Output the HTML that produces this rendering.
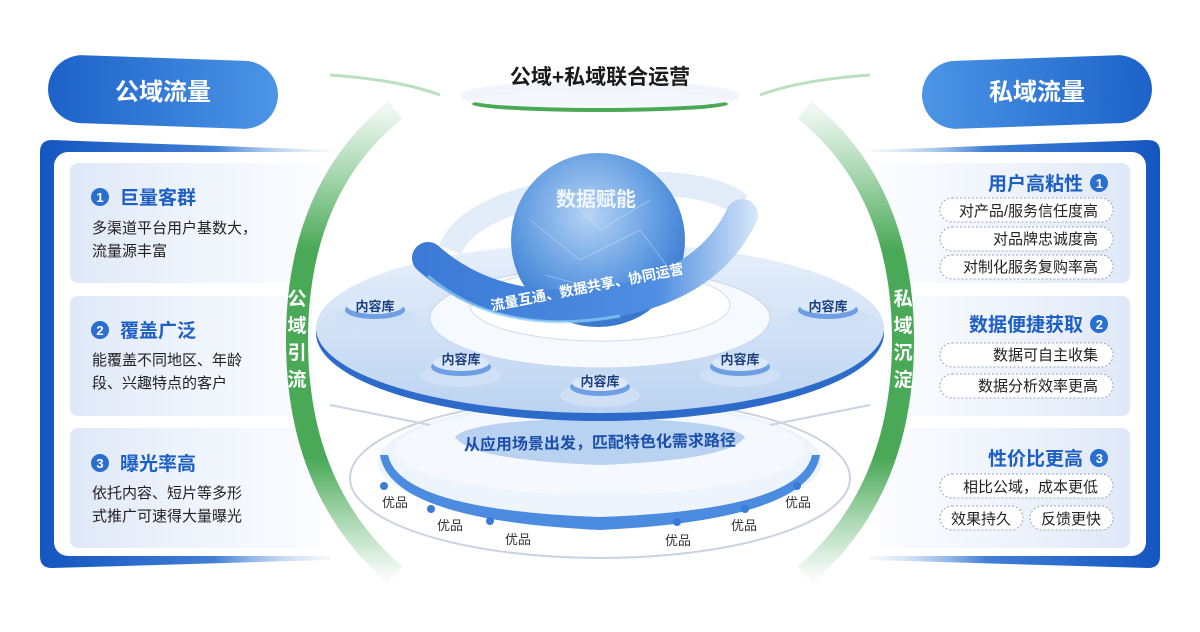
<!DOCTYPE html>
<html><head><meta charset="utf-8"><style>
html,body{margin:0;padding:0;background:#fff;width:1200px;height:632px;overflow:hidden}
svg{display:block;font-family:"Liberation Sans","Noto Sans CJK SC",sans-serif}
</style></head><body>
<svg width="1200" height="632" viewBox="0 0 1200 632" xmlns="http://www.w3.org/2000/svg">
<defs>
<linearGradient id="pillL" x1="0" x2="1"><stop offset="0" stop-color="#1c62c9"/><stop offset="1" stop-color="#4d95e6"/></linearGradient>
<linearGradient id="pillR" x1="0" x2="1"><stop offset="0" stop-color="#4d95e6"/><stop offset="1" stop-color="#1c62c9"/></linearGradient>
<linearGradient id="frameL" x1="0" x2="1"><stop offset="0" stop-color="#1455c0"/><stop offset="0.6" stop-color="#3f7fd6"/><stop offset="1" stop-color="#dbe7f7" stop-opacity="0.3"/></linearGradient>
<linearGradient id="frameR" x1="1" x2="0"><stop offset="0" stop-color="#1455c0"/><stop offset="0.6" stop-color="#3f7fd6"/><stop offset="1" stop-color="#dbe7f7" stop-opacity="0.3"/></linearGradient>
<linearGradient id="cardL" x1="0" x2="1"><stop offset="0" stop-color="#dfe8f7"/><stop offset="1" stop-color="#f7faff" stop-opacity="0.6"/></linearGradient>
<linearGradient id="cardR" x1="1" x2="0"><stop offset="0" stop-color="#dfe8f7"/><stop offset="1" stop-color="#f7faff" stop-opacity="0.6"/></linearGradient>
<linearGradient id="green" gradientUnits="userSpaceOnUse" x1="0" y1="110" x2="0" y2="575"><stop offset="0" stop-color="#5bb56a" stop-opacity="0.1"/><stop offset="0.3" stop-color="#4aa957"/><stop offset="0.75" stop-color="#4aa957"/><stop offset="1" stop-color="#5bb56a" stop-opacity="0.05"/></linearGradient>
<radialGradient id="globe" cx="0.45" cy="0.35" r="0.7"><stop offset="0" stop-color="#b7d4f5"/><stop offset="0.6" stop-color="#5d99e0"/><stop offset="1" stop-color="#2f6fc9"/></radialGradient>
<linearGradient id="disc" x1="0" y1="0" x2="0" y2="1"><stop offset="0" stop-color="#e8f0fb"/><stop offset="1" stop-color="#bcd3f1"/></linearGradient>
<linearGradient id="ring" gradientUnits="userSpaceOnUse" x1="420" y1="0" x2="760" y2="0"><stop offset="0" stop-color="#3b7ad6"/><stop offset="0.7" stop-color="#4f8ee2"/><stop offset="1" stop-color="#dbe9f9"/></linearGradient>
</defs>

<path d="M330 75 Q400 80 440 95" stroke="#8fcb95" stroke-width="3" fill="none" opacity="0.6"/>
<path d="M870 75 Q800 80 760 95" stroke="#8fcb95" stroke-width="3" fill="none" opacity="0.6"/>
<ellipse cx="600" cy="96" rx="140" ry="16" fill="#f1f5fb"/>
<ellipse cx="600" cy="104" rx="128" ry="8" fill="#4aa957"/>
<ellipse cx="600" cy="100" rx="130" ry="8" fill="#f4f7fb"/>
<text x="600" y="84" text-anchor="middle" font-size="21" font-weight="bold" fill="#1a1a1a">公域+私域联合运营</text>

<rect x="48" y="58" width="230" height="68" rx="34" fill="url(#pillL)" transform="rotate(2 163 92)"/>
<text x="163" y="100" text-anchor="middle" font-size="24" font-weight="bold" fill="#fff">公域流量</text>
<rect x="922" y="58" width="230" height="68" rx="34" fill="url(#pillR)" transform="rotate(-2 1037 92)"/>
<text x="1037" y="100" text-anchor="middle" font-size="24" font-weight="bold" fill="#fff">私域流量</text>

<path d="M52 140 L330 150 L330 560 L52 568 Q40 568 40 556 L40 152 Q40 140 52 140Z" fill="url(#frameL)"/>
<rect x="54" y="152" width="290" height="404" rx="14" fill="#fff"/>
<rect x="70" y="163" width="250" height="120" rx="8" fill="url(#cardL)"/>
<rect x="70" y="296" width="250" height="120" rx="8" fill="url(#cardL)"/>
<rect x="70" y="428" width="250" height="120" rx="8" fill="url(#cardL)"/>
<g font-size="19" font-weight="bold" fill="#1d5fc4">
<circle cx="100" cy="197" r="9" fill="#2a6ed0"/><text x="100" y="202" font-size="13" fill="#fff" text-anchor="middle">1</text><text x="120" y="204">巨量客群</text>
<circle cx="100" cy="330" r="9" fill="#2a6ed0"/><text x="100" y="335" font-size="13" fill="#fff" text-anchor="middle">2</text><text x="120" y="337">覆盖广泛</text>
<circle cx="100" cy="463" r="9" fill="#2a6ed0"/><text x="100" y="468" font-size="13" fill="#fff" text-anchor="middle">3</text><text x="120" y="470">曝光率高</text>
</g>
<g font-size="15" fill="#222">
<text x="92" y="233">多渠道平台用户基数大，</text><text x="92" y="256">流量源丰富</text>
<text x="92" y="365">能覆盖不同地区、年龄</text><text x="92" y="388">段、兴趣特点的客户</text>
<text x="92" y="498">依托内容、短片等多形</text><text x="92" y="521">式推广可速得大量曝光</text>
</g>

<path d="M1148 140 L870 150 L870 560 L1148 568 Q1160 568 1160 556 L1160 152 Q1160 140 1148 140Z" fill="url(#frameR)"/>
<rect x="856" y="152" width="290" height="404" rx="14" fill="#fff"/>
<rect x="880" y="163" width="250" height="120" rx="8" fill="url(#cardR)"/>
<rect x="880" y="296" width="250" height="120" rx="8" fill="url(#cardR)"/>
<rect x="880" y="428" width="250" height="120" rx="8" fill="url(#cardR)"/>
<g font-size="19" font-weight="bold" fill="#1d5fc4" text-anchor="end">
<text x="1083" y="190">用户高粘性</text><circle cx="1099" cy="183" r="9" fill="#2a6ed0"/><text x="1103" y="188" font-size="13" fill="#fff">1</text>
<text x="1083" y="331">数据便捷获取</text><circle cx="1099" cy="324" r="9" fill="#2a6ed0"/><text x="1103" y="329" font-size="13" fill="#fff">2</text>
<text x="1083" y="465">性价比更高</text><circle cx="1099" cy="458" r="9" fill="#2a6ed0"/><text x="1103" y="463" font-size="13" fill="#fff">3</text>
</g>
<g fill="#fff" stroke="#9aa6b8" stroke-dasharray="2 2" stroke-width="1">
<rect x="940" y="198" width="173" height="24" rx="12"/>
<rect x="940" y="227" width="173" height="24" rx="12"/>
<rect x="940" y="255" width="173" height="24" rx="12"/>
<rect x="940" y="343" width="173" height="24" rx="12"/>
<rect x="940" y="374" width="173" height="24" rx="12"/>
<rect x="940" y="474" width="173" height="24" rx="12"/>
<rect x="940" y="506" width="83" height="24" rx="12"/>
<rect x="1030" y="506" width="83" height="24" rx="12"/>
</g>
<g font-size="15" fill="#222" text-anchor="end">
<text x="1098" y="216">对产品/服务信任度高</text>
<text x="1098" y="244">对品牌忠诚度高</text>
<text x="1098" y="272">对制化服务复购率高</text>
<text x="1098" y="360">数据可自主收集</text>
<text x="1098" y="391">数据分析效率更高</text>
<text x="1098" y="492">相比公域，成本更低</text>
</g>
<g font-size="15" fill="#222" text-anchor="middle">
<text x="981" y="524">效果持久</text><text x="1071" y="524">反馈更快</text>
</g>

<path d="M405 112 Q312 190 312 340 Q312 490 405 572 L795 572 Q888 490 888 340 Q888 190 795 112Z" fill="#fff"/>
<path d="M395 110 Q297 190 297 340 Q297 490 395 575" stroke="url(#green)" stroke-width="22" fill="none"/>
<path d="M805 110 Q903 190 903 340 Q903 490 805 575" stroke="url(#green)" stroke-width="22" fill="none"/>
<g font-size="19" font-weight="bold" fill="#fff" text-anchor="middle">
<text x="297" y="305">公</text><text x="297" y="332">域</text><text x="297" y="359">引</text><text x="297" y="386">流</text>
<text x="903" y="305">私</text><text x="903" y="332">域</text><text x="903" y="359">沉</text><text x="903" y="386">淀</text>
</g>

<ellipse cx="600" cy="478" rx="250" ry="80" fill="#fff" stroke="#c9d3e2" stroke-width="2"/>
<ellipse cx="600" cy="462" rx="222" ry="62" fill="#eef4fc"/>
<path d="M380 455 Q390 520 600 530 Q810 520 820 455 L812 455 Q800 510 600 517 Q400 510 388 455Z" fill="#4c8ce0"/>
<ellipse cx="600" cy="450" rx="205" ry="45" fill="#f5f8fd"/>
<path d="M455 437 Q470 460 600 465 Q730 460 745 437 Q730 420 600 418 Q470 420 455 437Z" fill="#b9d2f2"/>
<text x="600" y="448" text-anchor="middle" font-size="16" font-weight="bold" fill="#1b4fa8" transform="rotate(-1 600 448)">从应用场景出发，匹配特色化需求路径</text>
<g fill="#3a7bd5"><circle cx="384" cy="486" r="4"/><circle cx="431" cy="509" r="4"/><circle cx="490" cy="521" r="4"/><circle cx="677" cy="522" r="4"/><circle cx="745" cy="509" r="4"/><circle cx="797" cy="486" r="4"/></g>
<g font-size="13" fill="#333" text-anchor="middle">
<text x="395" y="507">优品</text><text x="450" y="530">优品</text><text x="518" y="544">优品</text><text x="678" y="545">优品</text><text x="744" y="530">优品</text><text x="798" y="507">优品</text>
</g>
<path d="M330 405 L430 425 M870 405 L770 425" stroke="#c9d3e2" stroke-width="2"/>

<ellipse cx="600" cy="333" rx="284" ry="88" fill="#2d6bcb"/>
<ellipse cx="600" cy="328" rx="284" ry="85" fill="url(#disc)"/>
<ellipse cx="600" cy="318" rx="170" ry="50" fill="#f6f9fe" stroke="#c5d6ee"/>
<ellipse cx="600" cy="305" rx="130" ry="36" fill="#fff" stroke="#cfdced"/>
<g>
<ellipse cx="375" cy="318" rx="40" ry="12" fill="#cfe0f6"/><ellipse cx="375" cy="310" rx="30" ry="9" fill="#6e9fe2"/><ellipse cx="375" cy="306" rx="28" ry="8" fill="#dbe8f9"/>
<ellipse cx="461" cy="375" rx="40" ry="12" fill="#cfe0f6"/><ellipse cx="461" cy="367" rx="30" ry="9" fill="#6e9fe2"/><ellipse cx="461" cy="363" rx="28" ry="8" fill="#dbe8f9"/>
<ellipse cx="600" cy="395" rx="40" ry="12" fill="#cfe0f6"/><ellipse cx="600" cy="387" rx="30" ry="9" fill="#6e9fe2"/><ellipse cx="600" cy="383" rx="28" ry="8" fill="#dbe8f9"/>
<ellipse cx="740" cy="375" rx="40" ry="12" fill="#cfe0f6"/><ellipse cx="740" cy="367" rx="30" ry="9" fill="#6e9fe2"/><ellipse cx="740" cy="363" rx="28" ry="8" fill="#dbe8f9"/>
<ellipse cx="828" cy="318" rx="40" ry="12" fill="#cfe0f6"/><ellipse cx="828" cy="310" rx="30" ry="9" fill="#6e9fe2"/><ellipse cx="828" cy="306" rx="28" ry="8" fill="#dbe8f9"/>
</g>
<g font-size="13" font-weight="bold" fill="#1b3f80" text-anchor="middle">
<text x="375" y="311">内容库</text><text x="461" y="364">内容库</text><text x="600" y="386">内容库</text><text x="740" y="364">内容库</text><text x="828" y="311">内容库</text>
</g>

<path d="M450 250 Q470 200 600 185 Q710 178 740 205" stroke="#e3edf9" stroke-width="24" fill="none"/>
<circle cx="598" cy="240" r="87" fill="url(#globe)"/>
<g stroke="#dbe9fa" stroke-width="0.8" fill="none" opacity="0.5">
<path d="M530 220 L580 260 L640 230 L670 270 M560 190 L600 230 L650 200 M545 275 L600 290 L660 300"/>
</g>
<text x="596" y="206" text-anchor="middle" font-size="20" font-weight="bold" fill="#f2f7ff">数据赋能</text>
<path d="M428 258 Q500 322 620 300 Q710 282 742 215" stroke="url(#ring)" stroke-width="32" fill="none" stroke-linecap="round"/>
<path d="M428 276 Q500 338 620 316" stroke="#8fd0f5" stroke-width="3" fill="none" opacity="0.7"/>
<text x="588" y="292" text-anchor="middle" font-size="14" font-weight="bold" fill="#fff" transform="rotate(-11 588 292)">流量互通、数据共享、协同运营</text>
</svg>
</body></html>
